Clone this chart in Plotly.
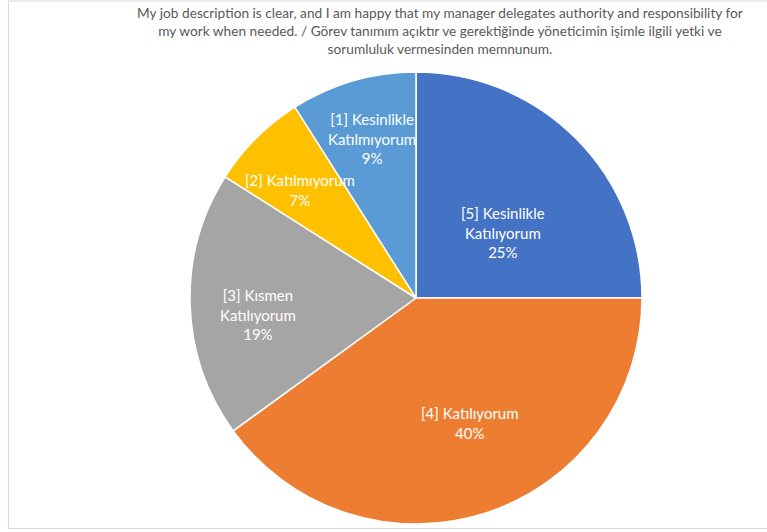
import math
import plotly.graph_objects as go

labels = ["[5] Kesinlikle<br>Katılıyorum", "[4] Katılıyorum", "[3] Kısmen<br>Katılıyorum",
          "[2] Katılmıyorum", "[1] Kesinlikle<br>Katılmıyorum"]
values = [25, 40, 19, 7, 9]
colors = ["#4472C4", "#ED7D31", "#A5A5A5", "#FFC000", "#5B9BD5"]
title = ("My job description is clear, and I am happy that my manager delegates authority and responsibility for<br>"
         "my work when needed. / Görev tanımım açıktır ve gerektiğinde yöneticimin işimle ilgili yetki ve<br>"
         "sorumluluk vermesinden memnunum.")

# label placement style: radius fraction along mid-angle, plus pixel nudge
label_radius = [0.48, 0.60, 0.70, 0.70, 0.70]
label_nudge = [(10, 11), (12, -4), (0, 12), (-4, 4), (0, -8)]

W, H = 767, 532
cx, cy, R = 416, 298, 226
FONT = "Lato, 'Open Sans', sans-serif"

fig = go.Figure(go.Pie(
    labels=labels, values=values, sort=False, direction="clockwise", rotation=0,
    marker=dict(colors=colors, line=dict(color="white", width=1.5)),
    textinfo="none", hoverinfo="label+percent", showlegend=False,
    domain=dict(x=[(cx - R) / W, (cx + R) / W], y=[1 - (cy + R) / H, 1 - (cy - R) / H]),
))

total = sum(values)
cum = 0
annotations = []
for lab, v, rf, (nx, ny) in zip(labels, values, label_radius, label_nudge):
    mid = (cum + v / 2) / total * 2 * math.pi
    cum += v
    px = cx + rf * R * math.sin(mid) + nx
    py = cy - rf * R * math.cos(mid) + ny
    annotations.append(dict(
        x=px / W, y=1 - py / H, xref="paper", yref="paper", showarrow=False,
        xanchor="center", yanchor="middle",
        text=f"{lab}<br>{round(v / total * 100)}%", align="center",
        font=dict(family=FONT, size=15, color="white"),
    ))

annotations.append(dict(
    x=440 / W, y=1 - 2 / H, xref="paper", yref="paper", xanchor="center", yanchor="top",
    showarrow=False, text=title, align="center",
    font=dict(family=FONT, size=13.7, color="#595959"),
))

fig.update_layout(
    width=W, height=H, margin=dict(l=0, r=0, t=0, b=0),
    paper_bgcolor="white", plot_bgcolor="white",
    annotations=annotations,
    shapes=[dict(type="rect", xref="paper", yref="paper",
                 x0=8.5 / W, x1=1.05, y0=1 - 528.5 / H, y1=1 - 1 / H,
                 line=dict(color="#D9D9D9", width=1.2), fillcolor="rgba(0,0,0,0)")],
)

fig.write_html("out.html", config={"displayModeBar": False},
               post_script="document.body.style.margin='0';document.body.style.overflow='hidden';")
